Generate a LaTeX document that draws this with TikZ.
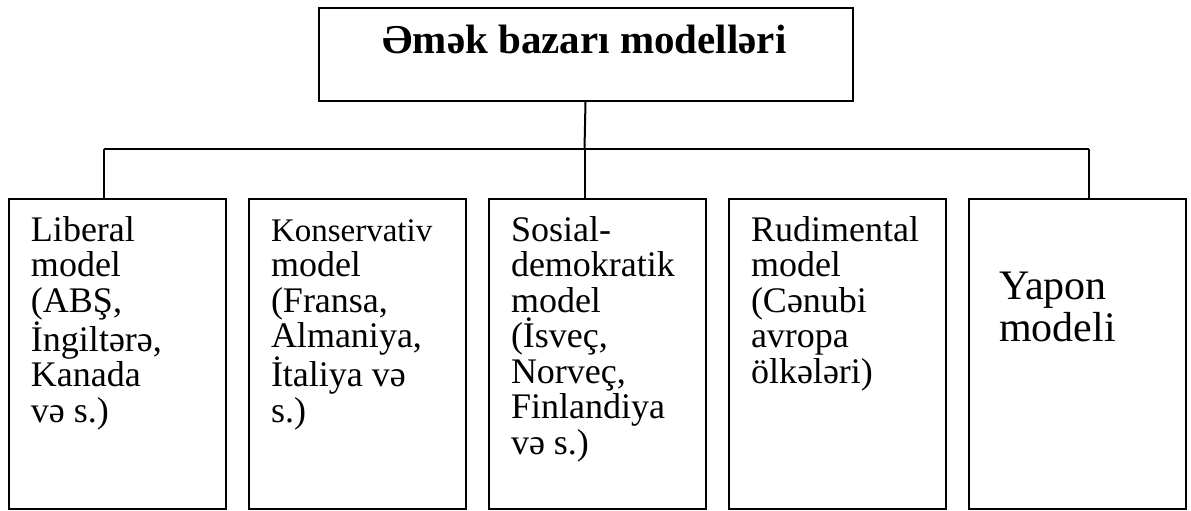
\documentclass[tikz,border=0pt]{standalone}
\usepackage{fontspec}
\setmainfont{Liberation Serif}
\newcommand{\firstline}{\rule{0pt}{13pt}}
\begin{document}
\begin{tikzpicture}[x=0.5pt,y=-0.5pt,
  line width=1pt,
  box/.style={draw,line width=1pt,rectangle,inner sep=0pt,minimum width=108.5pt,minimum height=155pt,anchor=north west},
  txt/.style={anchor=north west,inner sep=0pt,align=left,font=\fontsize{18}{17.75}\selectfont},
  conn/.style={draw,line width=1pt}]
\useasboundingbox (0,0) rectangle (1191,510);
% top box
\node[draw,line width=1pt,inner sep=0pt,minimum width=267pt,minimum height=46.5pt,anchor=north west] (top) at (317.5,7) {};
\node[anchor=base,inner sep=0pt,font=\fontsize{20.5}{22}\selectfont\bfseries] (title) at (584.5,53) {Əmək bazarı modelləri};
% bottom boxes
\node[box] (b1) at (8,198) {};
\node[box] (b2) at (248,198) {};
\node[box] (b3) at (488,198) {};
\node[box] (b4) at (728,198) {};
\node[box] (b5) at (968,198) {};
% texts (first baseline 26px below the given y)
\node[txt] (t1) at (30,214) {\firstline Liberal\\model\\(ABŞ,\\İngiltərə,\\Kanada\\və s.)};
\node[txt] (t2) at (270,214) {\firstline{\fontsize{16.5}{17.75}\selectfont Konservativ}\\model\\(Fransa,\\Almaniya,\\İtaliya və\\s.)};
\node[txt] (t3) at (510,214) {\firstline Sosial-\\demokratik\\model\\(İsveç,\\Norveç,\\Finlandiya\\və s.)};
\node[txt] (t4) at (750,214) {\firstline Rudimental\\model\\(Cənubi\\avropa\\ölkələri)};
\node[txt,font=\fontsize{21}{21}\selectfont] (t5) at (998,271) {\firstline Yapon\\modeli};
% connectors
\coordinate (hub) at (584.5,149);
\coordinate (j1) at (104,149);
\coordinate (j5) at (1089,149);
\draw[conn] (top.south) -- (hub);
\draw[conn] (j1) -- (j5);
\draw[conn] (j1) -- (j1 |- b1.north);
\draw[conn] (hub) -- (hub |- b3.north);
\draw[conn] (j5) -- (j5 |- b5.north);
\end{tikzpicture}
\end{document}
